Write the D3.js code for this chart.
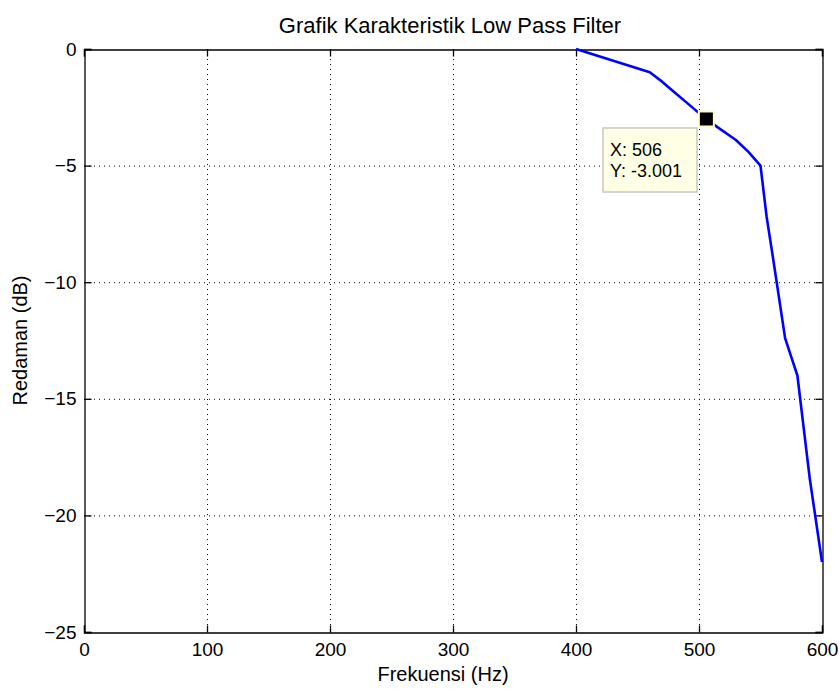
<!DOCTYPE html>
<html><head><meta charset="utf-8">
<script src="https://cdn.jsdelivr.net/npm/d3@7"></script>
<style>
body{margin:0;background:#fff;}
text{font-family:Arial,"Liberation Sans",Helvetica,sans-serif;fill:#000;}
</style></head>
<body><svg id="c" width="840" height="691"></svg>
<script>
const freq = [400, 460, 470, 480, 490, 500, 506, 515, 530, 540, 550, 555, 560, 570, 575, 580, 590, 600];
const atten = [0, -1.0, -1.4, -1.85, -2.3, -2.75, -3.001, -3.35, -3.9, -4.4, -5.0, -7.2, -8.9, -12.4, -13.2, -14.0, -18.4, -22.0];
const xTicks = [0, 100, 200, 300, 400, 500, 600];
const yTicks = [0, -5, -10, -15, -20, -25];
const titleText = "Grafik Karakteristik Low Pass Filter";
const xLabel = "Frekuensi (Hz)";
const yLabel = "Redaman (dB)";
const tipX = 506, tipY = -3.001;

const L = 84, R = 822, T = 49, B = 632;
const svg = d3.select("#c");
const x = d3.scaleLinear().domain([0, 600]).range([L, R]);
const y = d3.scaleLinear().domain([-25, 0]).range([B, T]);

// grid
const g = svg.append("g");
g.selectAll(".gx").data(xTicks.slice(1, -1)).enter().append("line")
  .attr("x1", d => x(d) + 0.5).attr("x2", d => x(d) + 0.5).attr("y1", T).attr("y2", B)
  .attr("stroke", "#000").attr("stroke-width", 1).attr("stroke-dasharray", "1,4");
g.selectAll(".gy").data(yTicks.slice(1, -1)).enter().append("line")
  .attr("y1", d => y(d) + 0.5).attr("y2", d => y(d) + 0.5).attr("x1", L).attr("x2", R)
  .attr("stroke", "#000").attr("stroke-width", 1).attr("stroke-dasharray", "1,4");

// axes (ticks inward)
const fs = 19;
const xb = svg.append("g").attr("transform", `translate(0,${B + 0.5})`)
  .call(d3.axisBottom(x).tickValues(xTicks).tickSize(-7).tickPadding(10).tickFormat(d3.format("d")));
const xt = svg.append("g").attr("transform", `translate(0,${T + 0.5})`)
  .call(d3.axisTop(x).tickValues(xTicks).tickSize(-7).tickFormat(""));
const yl = svg.append("g").attr("transform", `translate(${L + 0.5},0)`)
  .call(d3.axisLeft(y).tickValues(yTicks).tickSize(-7).tickPadding(8).tickFormat(d3.format("d")));
const yr = svg.append("g").attr("transform", `translate(${R + 0.5},0)`)
  .call(d3.axisRight(y).tickValues(yTicks).tickSize(-7).tickFormat(""));
[xb, xt, yl, yr].forEach(a => {
  a.select(".domain").attr("stroke", "#000").attr("stroke-width", 1.3);
  a.selectAll(".tick line").attr("stroke", "#000").attr("stroke-width", 1.3);
  a.selectAll("text").attr("font-size", fs).attr("font-family", "Arial, 'Liberation Sans', sans-serif").attr("fill", "#000");
});
xb.selectAll(".tick text").attr("dy", "0.71em");

// curve
const line = d3.line().x((d, i) => x(freq[i])).y(d => y(d));
svg.append("path").datum(atten).attr("d", line)
  .attr("fill", "none").attr("stroke", "#0000ff").attr("stroke-width", 2.6).attr("stroke-linejoin", "round");

// labels
svg.append("text").attr("x", 450).attr("y", 33).attr("text-anchor", "middle")
  .attr("font-size", 22).text(titleText);
svg.append("text").attr("x", 443).attr("y", 681).attr("text-anchor", "middle")
  .attr("font-size", 20).text(xLabel);
svg.append("text").attr("transform", `translate(27,${(T + B) / 2}) rotate(-90)`).attr("text-anchor", "middle")
  .attr("font-size", 20).text(yLabel);

// data tip
const tip = svg.append("g");
tip.append("rect").attr("x", 603).attr("y", 128).attr("width", 94).attr("height", 64)
  .attr("fill", "#ffffe6").attr("stroke", "#c8c8c0").attr("stroke-width", 1.5);
tip.append("text").attr("x", 610).attr("y", 156).attr("font-size", 18).text("X: " + tipX);
tip.append("text").attr("x", 610).attr("y", 177).attr("font-size", 18).text("Y: " + tipY.toFixed(3));
svg.append("rect").attr("x", x(tipX) - 7.5).attr("y", y(tipY) - 7.5).attr("width", 15).attr("height", 15)
  .attr("fill", "#000").attr("stroke", "#fffbd0").attr("stroke-width", 2);
</script></body></html>
